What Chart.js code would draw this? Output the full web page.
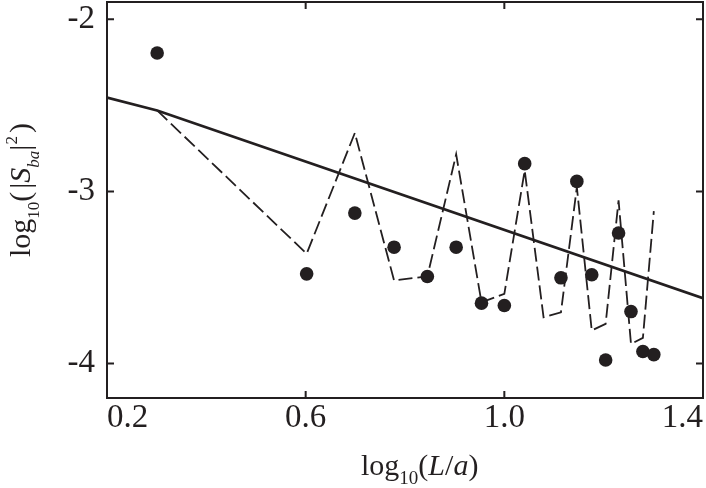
<!DOCTYPE html>
<html>
<head>
<meta charset="utf-8">
<script src="https://cdn.jsdelivr.net/npm/chart.js@4/dist/chart.umd.min.js"></script>
<style>
  html, body { margin: 0; padding: 0; background: #fff; }
  #wrap { position: relative; width: 706px; height: 488px; }
  .title {
    position: absolute; white-space: nowrap; color: #231f20;
    font-family: "Liberation Serif", serif; font-size: 30px; line-height: 30px;
  }
  .title sub, .title sup { font-size: 19px; vertical-align: baseline; position: relative; line-height: 0; }
  .title sub { top: 9px; }
  .title sup { top: -13px; }
  #yTitle sub, #yTitle sup { font-size: 17px; }
  .gap { display: inline-block; width: 3px; }
  #xTitle { left: 361px; top: 450px; }
  #yTitle { left: 5px; top: 257px; transform-origin: 0 0; transform: rotate(-90deg); }
</style>
</head>
<body>
<div id="wrap">
  <canvas id="chart" width="706" height="488"></canvas>
  <div class="title" id="xTitle">log<sub>10</sub>(<i>L</i>/<i>a</i>)</div>
  <div class="title" id="yTitle">log<sub>10</sub>(<span class="gap"></span>|<i>S</i><sub><i>ba</i></sub>|<sup>2</sup><span class="gap"></span>)</div>
</div>
<script>
// measured points (x = log10(L/a))
const dotX = [0.301, 0.602, 0.699, 0.778, 0.845, 0.903, 0.954, 1.000, 1.041, 1.114, 1.146, 1.176, 1.204, 1.230, 1.255, 1.279, 1.301];
const dotY = [-2.196, -3.479, -3.126, -3.324, -3.494, -3.324, -3.649, -3.663, -2.839, -3.502, -2.942, -3.484, -3.979, -3.242, -3.698, -3.930, -3.948];

// dashed curve
const dashX = [0.301, 0.602, 0.699, 0.778, 0.845, 0.903, 0.954, 1.000, 1.041, 1.079, 1.114, 1.146, 1.176, 1.204, 1.230, 1.255, 1.279, 1.301];
const dashY = [-2.53, -3.362, -2.661, -3.517, -3.494, -2.785, -3.644, -3.595, -2.878, -3.731, -3.702, -2.975, -3.808, -3.769, -3.052, -3.886, -3.851, -3.115];

// solid curve
const solidX = [0.2, 0.301, 1.4];
const solidY = [-2.455, -2.53, -3.62];

const xTicks = [0.2, 0.6, 1.0, 1.4];
const yTicks = [-2, -3, -4];

const ink = "#231f20";
const pts = (xs, ys) => xs.map((x, i) => ({ x: x, y: ys[i] }));

// frame + inward ticks on all four sides
const framePlugin = {
  id: "frame",
  afterDraw(chart) {
    const { ctx, chartArea: a, scales } = chart;
    const len = 7;
    ctx.save();
    ctx.strokeStyle = ink;
    ctx.lineWidth = 2;
    ctx.strokeRect(a.left, a.top, a.right - a.left, a.bottom - a.top);
    ctx.beginPath();
    xTicks.forEach(v => {
      const px = scales.x.getPixelForValue(v);
      ctx.moveTo(px, a.bottom); ctx.lineTo(px, a.bottom - len);
      ctx.moveTo(px, a.top); ctx.lineTo(px, a.top + len);
    });
    yTicks.forEach(v => {
      const py = scales.y.getPixelForValue(v);
      ctx.moveTo(a.left, py); ctx.lineTo(a.left + len, py);
      ctx.moveTo(a.right, py); ctx.lineTo(a.right - len, py);
    });
    ctx.stroke();
    ctx.restore();
  }
};

const tickFont = { family: "Liberation Serif", size: 33 };

new Chart(document.getElementById("chart"), {
  type: "scatter",
  data: {
    datasets: [
      {
        data: pts(dotX, dotY),
        backgroundColor: ink, borderColor: ink,
        pointRadius: 6.8, pointHoverRadius: 6.8, borderWidth: 0
      },
      {
        data: pts(dashX, dashY),
        showLine: true, borderColor: ink, borderWidth: 1.8,
        borderDash: [14, 5], pointRadius: 0, tension: 0
      },
      {
        data: pts(solidX, solidY),
        showLine: true, borderColor: ink, borderWidth: 2.8,
        pointRadius: 0, tension: 0
      }
    ]
  },
  options: {
    responsive: false,
    animation: false,
    events: [],
    layout: { autoPadding: false, padding: { top: 2, right: 3, left: 0, bottom: 0 } },
    plugins: { legend: { display: false }, tooltip: { enabled: false } },
    scales: {
      x: {
        type: "linear", min: 0.2, max: 1.4,
        afterBuildTicks: s => { s.ticks = xTicks.map(v => ({ value: v })); },
        afterFit: s => { s.height = 90; s.paddingLeft = 0; s.paddingRight = 0; },
        grid: { display: false, drawTicks: false },
        border: { display: false },
        ticks: {
          align: "inner", padding: 1, color: ink, font: tickFont,
          maxRotation: 0, autoSkip: false,
          callback: v => v.toFixed(1)
        }
      },
      y: {
        type: "linear", min: -4.2, max: -1.9,
        afterBuildTicks: s => { s.ticks = yTicks.map(v => ({ value: v })); },
        afterFit: s => { s.width = 107; s.paddingTop = 0; s.paddingBottom = 0; },
        grid: { display: false, drawTicks: false },
        border: { display: false },
        ticks: {
          padding: 12, color: ink, font: tickFont, autoSkip: false,
          callback: v => String(v)
        }
      }
    }
  },
  plugins: [framePlugin]
});
</script>
</body>
</html>
